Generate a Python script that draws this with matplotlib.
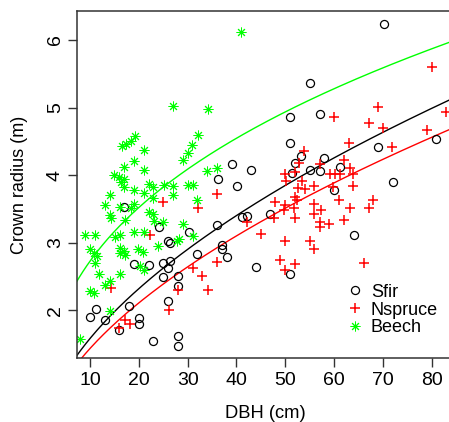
import numpy as np
import matplotlib
matplotlib.use('Agg')
from matplotlib import pyplot as plt

plt.rcParams['font.family'] = ['Liberation Sans', 'DejaVu Sans']

# silver fir
sfir_dbh = [70.2, 55.1, 51.0, 57.1, 51.0, 39.0, 43.0, 40.1, 36.2, 53.2, 58.0, 52.1, 69.0, 81.0,
            61.2, 55.1, 57.1, 51.4, 72.1, 60.1, 64.1, 41.1, 42.1, 46.9, 44.0, 51.0, 38.1, 37.1,
            37.1, 32.0, 36.1, 30.2, 24.1, 26.0, 26.3, 26.3, 26.0, 25.0, 25.0, 22.0, 19.0, 28.0,
            28.0, 26.0, 28.0, 28.0, 23.0, 20.1, 20.1, 18.0, 16.0, 13.1, 10.0, 11.2, 16.9]
sfir_cr = [6.24, 5.36, 4.86, 4.91, 4.48, 4.16, 4.07, 3.84, 3.94, 4.28, 4.25, 4.18, 4.42, 4.53,
           4.12, 4.08, 4.06, 4.03, 3.89, 3.78, 3.11, 3.38, 3.40, 3.43, 2.64, 2.53, 2.78, 2.97,
           2.90, 2.83, 3.26, 3.16, 3.23, 3.02, 3.00, 2.73, 2.62, 2.70, 2.49, 2.67, 2.68, 2.50,
           2.36, 2.14, 1.62, 1.47, 1.54, 1.88, 1.79, 2.06, 1.70, 1.85, 1.90, 2.01, 3.52]

# norway spruce
nspruce_dbh = [80.1, 83.0, 69.0, 60.0, 67.1, 70.0, 79.0, 63.0, 71.9, 53.8, 52.8, 57.1, 62.0, 63.2,
               52.0, 50.0, 50.2, 53.4, 52.7, 54.1, 56.0, 59.2, 60.2, 61.3, 64.0, 59.9, 63.9, 47.9,
               50.0, 52.0, 52.4, 61.1, 68.0, 67.1, 63.2, 51.9, 49.8, 56.0, 57.4, 47.8, 42.1, 45.1,
               52.0, 56.0, 57.2, 57.2, 59.0, 62.0, 50.0, 55.1, 56.0, 49.0, 52.0, 50.0, 66.1, 36.0,
               32.1, 25.0, 22.2, 36.0, 33.0, 34.1, 31.1, 28.1, 26.1, 14.2, 16.0, 17.2, 18.1]
nspruce_cr = [5.60, 4.94, 5.01, 4.86, 4.77, 4.69, 4.67, 4.47, 4.42, 4.35, 4.18, 4.16, 4.23, 4.11,
              4.04, 4.01, 3.91, 3.91, 3.81, 3.79, 3.84, 4.02, 4.02, 4.02, 4.02, 3.82, 3.84, 3.60,
              3.55, 3.68, 3.63, 3.63, 3.63, 3.51, 3.51, 3.51, 3.48, 3.57, 3.48, 3.36, 3.30, 3.13,
              3.36, 3.43, 3.31, 3.23, 3.27, 3.34, 3.02, 3.02, 2.90, 2.74, 2.68, 2.59, 2.70, 3.72,
              3.51, 3.60, 3.11, 2.71, 2.51, 2.30, 2.62, 2.29, 2.00, 2.32, 1.74, 1.86, 1.80]

# beech
beech_dbh = [41.0, 27.0, 34.1, 16.6, 17.4, 18.3, 19.2, 21.0, 19.1, 21.0, 16.9, 14.9, 16.0, 16.9,
             16.3, 17.0, 19.1, 21.0, 22.1, 23.0, 25.1, 27.0, 27.0, 22.9, 30.0, 31.2, 29.1, 30.0,
             31.0, 32.1, 34.0, 36.0, 32.0, 14.0, 13.0, 16.1, 19.1, 18.3, 14.0, 14.2, 17.1, 22.0,
             22.9, 23.1, 25.0, 29.1, 9.0, 11.0, 15.1, 16.2, 19.0, 21.1, 9.9, 10.9, 11.4, 11.0,
             11.9, 13.1, 14.1, 9.9, 10.8, 14.1, 7.9, 16.2, 17.0, 16.2, 17.2, 16.2, 19.9, 20.9,
             20.3, 21.1, 24.0, 27.8, 28.3, 31.1]
beech_cr = [6.12, 5.02, 4.98, 4.43, 4.46, 4.50, 4.58, 4.37, 4.21, 4.07, 4.12, 4.00, 3.97, 3.94,
            3.90, 3.83, 3.78, 3.73, 3.87, 3.83, 3.85, 3.84, 3.70, 3.66, 3.85, 3.85, 4.23, 4.32,
            4.44, 4.59, 4.06, 4.10, 3.63, 3.70, 3.55, 3.52, 3.57, 3.51, 3.41, 3.36, 3.33, 3.46,
            3.42, 3.32, 3.30, 3.27, 3.11, 3.11, 3.08, 3.11, 3.15, 3.16, 2.91, 2.85, 2.80, 2.69,
            2.53, 2.37, 2.43, 2.28, 2.26, 1.99, 1.57, 2.92, 2.88, 2.85, 2.81, 2.53, 2.90, 2.86,
            2.65, 2.59, 2.95, 3.02, 3.06, 3.10]

# power-law fits cr = a * dbh^b
sfir_fit = [0.442, 0.553]
nspruce_fit = [0.397, 0.557]
beech_fit = [1.165, 0.369]

W, H = 449, 422
fig = plt.figure(figsize=(W / 100, H / 100), dpi=100)
ax = fig.add_axes([77 / W, (H - 358) / H, 376 / W, 347 / H])

x_n = np.linspace(7, 86, 300)
ax.plot(x_n, sfir_fit[0] * x_n ** sfir_fit[1], '-', color='black', lw=1)
ax.plot(x_n, nspruce_fit[0] * x_n ** nspruce_fit[1], '-', color='#ff0000', lw=1)
ax.plot(x_n, beech_fit[0] * x_n ** beech_fit[1], '-', color='#00ff00', lw=1)

ax.plot(sfir_dbh, sfir_cr, 'o', mfc='none', mec='black', mew=0.9, ms=5.8, label='Sfir')
ax.plot(nspruce_dbh, nspruce_cr, '+', color='#ff0000', mew=1.1, ms=7.5, label='Nspruce')
ax.plot(beech_dbh, beech_cr, ls='none', marker=(8, 2, 0), color='#00ff00', mew=0.7, ms=7,
        label='Beech')

ax.set_xlim(7.33, 84.4)
ax.set_ylim(1.29, 6.43)
ax.set_xticks([10, 20, 30, 40, 50, 60, 70, 80])
ax.set_yticks([2, 3, 4, 5, 6])
for s in ax.spines.values():
    s.set_color('#333333')
    s.set_linewidth(1.1)
ax.tick_params(length=6.5, width=1, color='#333333', pad=3.5)
ax.tick_params(axis='y', labelrotation=90, pad=3)
for lab in ax.get_xticklabels() + ax.get_yticklabels():
    lab.set_fontsize(14)
for lab in ax.get_yticklabels():
    lab.set_va('center')

ax.set_xlabel('DBH (cm)', fontsize=13.2)
ax.set_ylabel('Crown radius (m)', fontsize=13)
ax.xaxis.set_label_coords(0.5, -0.135)
ax.yaxis.set_label_coords(-0.13, 0.5)

ax.legend(loc='upper left', bbox_to_anchor=(0.695, 0.235), frameon=False, fontsize=13,
          handlelength=1.0, handletextpad=0.4, labelspacing=0.05, borderaxespad=0)

fig.savefig('out.png', dpi=100)
